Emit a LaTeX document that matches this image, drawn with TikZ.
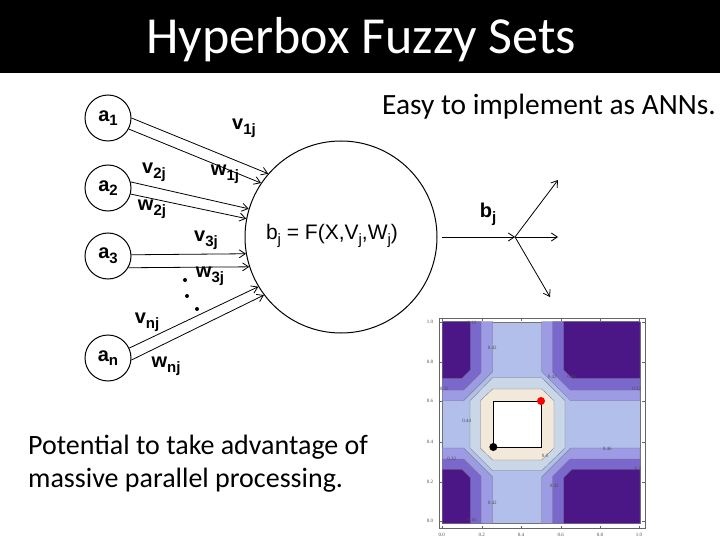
\documentclass[tikz,border=0pt]{standalone}
\usepackage{fontspec}
\setmainfont{Carlito}
\newfontfamily\arialf{Liberation Sans}
\newfontfamily\tnrf{Liberation Serif}
\usetikzlibrary{arrows.meta}
\newcommand{\sbx}[1]{\raisebox{-0.45ex}{\fontsize{15}{15}\selectfont #1}}
\definecolor{lightblue}{RGB}{178,191,234}
\definecolor{grayblue}{RGB}{201,215,233}
\definecolor{beige}{RGB}{242,233,218}
\definecolor{lavender}{RGB}{157,155,227}
\definecolor{medpurple}{RGB}{122,104,205}
\definecolor{darkpurple}{RGB}{75,22,133}
\tikzset{
  anode/.style={circle, draw, line width=1pt, minimum size=46pt, inner sep=0pt,
    font=\arialf\bfseries\fontsize{20}{20}\selectfont},
  lbl/.style={inner sep=0pt, font=\arialf\bfseries\fontsize{20}{20}\selectfont},
  conn/.style={-{Straight Barb[length=6pt,width=8pt]}, line width=0.8pt},
  cline/.style={draw=black!55, line width=0.3pt},
  tick/.style={inner sep=0pt, font=\tnrf\fontsize{5}{5}\selectfont, text=black!70},
  slidetext/.style={anchor=base west, inner sep=0pt, font=\fontsize{28}{33}\selectfont}
}
\begin{document}
\begin{tikzpicture}[x=1pt,y=-1pt]
\useasboundingbox (0,0) rectangle (720,540);
\fill[white] (0,0) rectangle (720,540);
% title bar
\fill[black] (0,0) rectangle (720,73);
\node[anchor=base, inner sep=0pt, text=white, font=\fontsize{52}{52}\selectfont] (title) at (361,54) {Hyperbox Fuzzy Sets};
% slide texts
\node[slidetext, font=\fontsize{29.4}{33}\selectfont] (easy) at (382,115) {Easy to implement as ANNs.};
\node[slidetext] (pot1) at (28,454) {Potential to take advantage of};
\node[slidetext] (pot2) at (28,487) {massive parallel processing.};
% network
\node[circle, draw, line width=1pt, minimum size=192pt, inner sep=0pt] (bj) at (341,237) {};
\node[inner sep=0pt, font=\arialf\fontsize{21}{21}\selectfont] (bjtext) at (332,236) {b\sbx{j} = F(X,V\sbx{j},W\sbx{j})};
\node[anode] (a1) at (108,118) {a\sbx{1}};
\node[anode] (a2) at (108,188) {a\sbx{2}};
\node[anode] (a3) at (108,256) {a\sbx{3}};
\node[anode] (an) at (108,358) {a\sbx{n}};
\draw[conn] (a1.0) -- (bj.139);
\draw[conn] (a1.-28) -- (bj.146);
\draw[conn] (a2.15) -- (bj.163);
\draw[conn] (a2.-15) -- (bj.169);
\draw[conn] (a3.3) -- (bj.190);
\draw[conn] (a3.-30) -- (bj.198);
\draw[conn] (an.25) -- (bj.211);
\draw[conn] (an.-5) -- (bj.217);
\node[lbl] (v1) at (244,128) {v\sbx{1j}};
\node[lbl] (w1) at (225,174) {w\sbx{1j}};
\node[lbl] (v2) at (154,172) {v\sbx{2j}};
\node[lbl] (w2) at (152,209) {w\sbx{2j}};
\node[lbl] (v3) at (206,240) {v\sbx{3j}};
\node[lbl] (w3) at (210,276) {w\sbx{3j}};
\node[lbl] (vn) at (147,322) {v\sbx{nj}};
\node[lbl] (wn) at (166,366) {w\sbx{nj}};
\fill (185,280) circle (2pt);
\fill (187,296) circle (2pt);
\fill (197,309) circle (2pt);
% output
\coordinate (jn) at (515,237);
\coordinate (o1) at (558,180);
\coordinate (o2) at (558,237);
\coordinate (o3) at (550,297);
\draw[conn, shorten <=4pt] (bj.east) -- (jn);
\draw[conn] (jn) -- (o1);
\draw[conn] (jn) -- (o2);
\draw[conn] (jn) -- (o3);
\node[lbl] (bl) at (488,214) {b\sbx{j}};
% contour plot
\begin{scope}[shift={(415,310)}, scale=1/3]
  \fill[white] (72,25) rectangle (690,655);
  \filldraw[fill=lightblue, cline] (82,35) rectangle (675,640);
  % corners: lavender
  \filldraw[fill=lavender, cline] (82,35) -- (233,35) -- (233,185) -- (146,272) -- (82,272) -- cycle;
  \filldraw[fill=lavender, cline] (675,35) -- (380,35) -- (380,185) -- (467,272) -- (675,272) -- cycle;
  \filldraw[fill=lavender, cline] (82,640) -- (233,640) -- (233,501) -- (146,414) -- (82,414) -- cycle;
  \filldraw[fill=lavender, cline] (675,640) -- (380,640) -- (380,501) -- (467,414) -- (675,414) -- cycle;
  % medium
  \filldraw[fill=medpurple, cline] (82,35) -- (198,35) -- (198,188) -- (146,240) -- (82,240) -- cycle;
  \filldraw[fill=medpurple, cline] (675,35) -- (413,35) -- (413,188) -- (465,240) -- (675,240) -- cycle;
  \filldraw[fill=medpurple, cline] (82,640) -- (198,640) -- (198,499) -- (146,447) -- (82,447) -- cycle;
  \filldraw[fill=medpurple, cline] (675,640) -- (413,640) -- (413,499) -- (465,447) -- (675,447) -- cycle;
  % dark
  \filldraw[fill=darkpurple, cline] (82,35) -- (166,35) -- (166,180) -- (141,205) -- (82,205) -- cycle;
  \filldraw[fill=darkpurple, cline] (675,35) -- (446,35) -- (446,180) -- (471,205) -- (675,205) -- cycle;
  \filldraw[fill=darkpurple, cline] (82,640) -- (166,640) -- (166,503) -- (141,478) -- (82,478) -- cycle;
  \filldraw[fill=darkpurple, cline] (675,640) -- (446,640) -- (446,503) -- (471,478) -- (675,478) -- cycle;
  % central octagons
  \filldraw[fill=grayblue, cline] (233,203) -- (380,203) -- (450,272) -- (450,414) -- (380,482) -- (233,482) -- (165,414) -- (165,272) -- cycle;
  \filldraw[fill=beige, cline] (233,237) -- (380,237) -- (417,272) -- (417,414) -- (380,450) -- (233,450) -- (196,414) -- (196,272) -- cycle;
  \filldraw[fill=white, draw=black, line width=0.9pt] (235,273) rectangle (379,411);
  \fill[red] (378,273) circle (12pt);
  \fill[black] (235,411) circle (12pt);
  % frame
  \draw[black!60, line width=0.4pt] (72,25) rectangle (690,655);
  \foreach \t in {80,200,318,437,555,672} {
    \draw[black!60, line width=0.3pt] (\t,655) -- (\t,647);
    \draw[black!60, line width=0.3pt] (\t,25) -- (\t,33);
  }
  \foreach \t in {35,155,272,395,515,632} {
    \draw[black!60, line width=0.3pt] (72,\t) -- (80,\t);
    \draw[black!60, line width=0.3pt] (690,\t) -- (682,\t);
  }
  % tick labels
  \node[tick] (ty1) at (45,35) {1.0};
  \node[tick] (ty2) at (45,155) {0.8};
  \node[tick] (ty3) at (45,272) {0.6};
  \node[tick] (ty4) at (45,395) {0.4};
  \node[tick] (ty5) at (45,515) {0.2};
  \node[tick] (ty6) at (45,632) {0.0};
  \node[tick] (tx1) at (80,675) {0.0};
  \node[tick] (tx2) at (200,675) {0.2};
  \node[tick] (tx3) at (318,675) {0.4};
  \node[tick] (tx4) at (437,675) {0.6};
  \node[tick] (tx5) at (555,675) {0.8};
  \node[tick] (tx6) at (672,675) {1.0};
  % contour labels
  \node[tick] (c1) at (170,38) {0.16};
  \node[tick] (c2) at (232,115) {0.42};
  \node[tick] (c3) at (88,238) {0.32};
  \node[tick] (c4) at (665,238) {0.32};
  \node[tick] (c5) at (412,200) {0.42};
  \node[tick] (c6) at (470,200) {0.46};
  \node[tick] (c7) at (155,332) {0.44};
  \node[tick] (c8) at (577,418) {0.46};
  \node[tick] (c9) at (390,438) {0.6};
  \node[tick] (c10) at (110,447) {0.32};
  \node[tick] (c11) at (668,478) {0.3};
  \node[tick] (c12) at (418,528) {0.42};
  \node[tick] (c13) at (232,580) {0.42};
  \node[tick] (c14) at (170,630) {0.16};
\end{scope}
\end{tikzpicture}
\end{document}
